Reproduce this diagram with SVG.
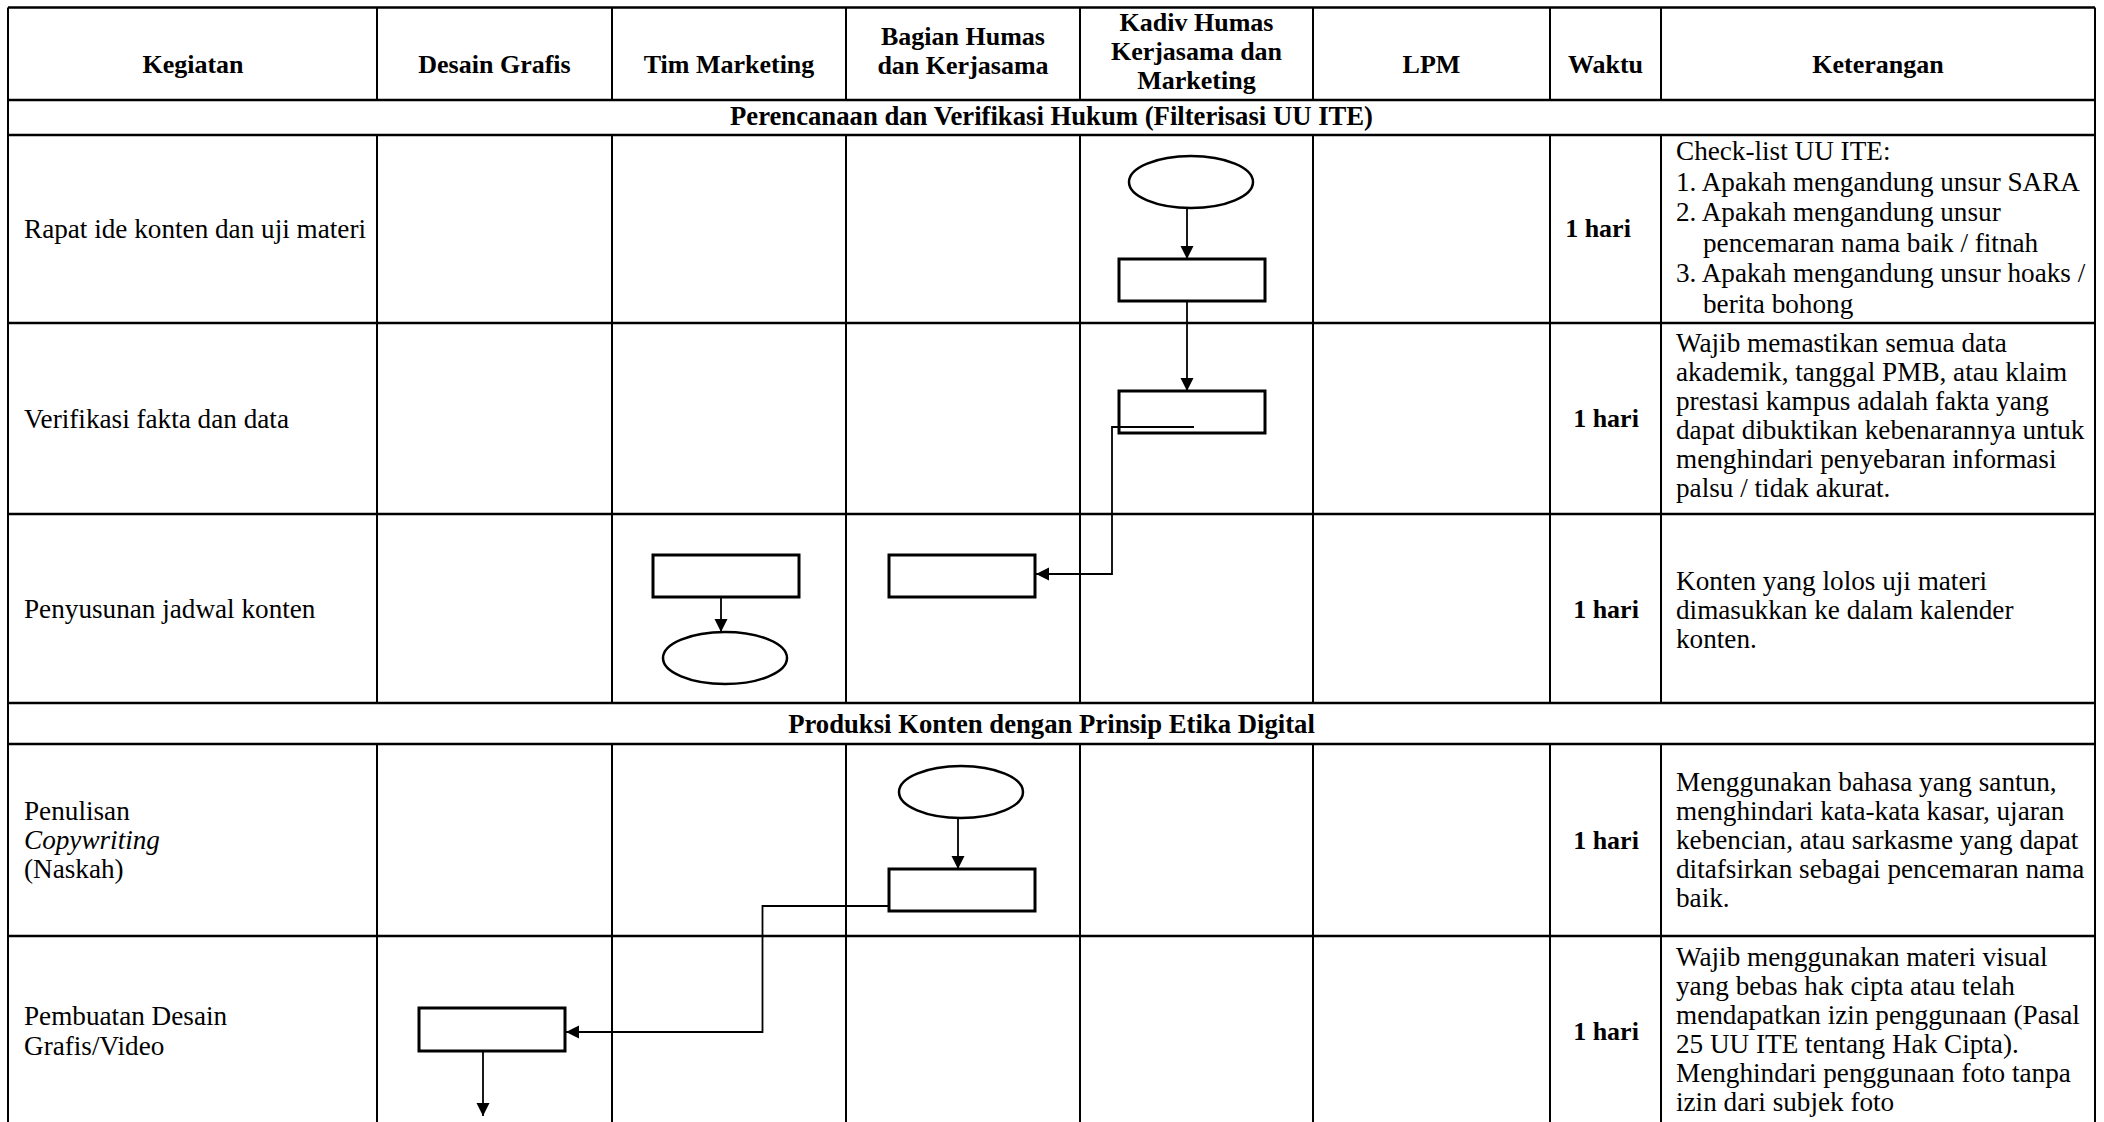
<svg xmlns="http://www.w3.org/2000/svg" width="2104" height="1122" viewBox="0 0 2104 1122">
<style>
.bg{fill:#fff}
.h{stroke:#000;stroke-width:2.3;fill:none}
.v{stroke:#000;stroke-width:2;fill:none}
.hd{font-family:"Liberation Serif","Times New Roman",serif;font-weight:bold;font-size:26px;fill:#000;text-anchor:middle}
.sec{font-family:"Liberation Serif","Times New Roman",serif;font-weight:bold;font-size:26.7px;fill:#000;text-anchor:middle}
.tx{font-family:"Liberation Serif","Times New Roman",serif;font-size:27.2px;fill:#000}
.wk{font-family:"Liberation Serif","Times New Roman",serif;font-weight:bold;font-size:26px;fill:#000;text-anchor:middle}
.box{fill:#fff;stroke:#000;stroke-width:3}
.ov{fill:#fff;stroke:#000;stroke-width:2.5}
.cn{fill:none;stroke:#000;stroke-width:1.8}
</style>
<defs>
<marker id="ah" viewBox="0 0 13 14" refX="13" refY="7" markerWidth="13" markerHeight="14" markerUnits="userSpaceOnUse" orient="auto">
<path d="M0,0.5 L13,7 L0,13.5 z" fill="#000"/>
</marker>
</defs>
<rect class="bg" x="0" y="0" width="2104" height="1122"/>

<g id="table">
<path class="h" d="M8 7.5H2095M8 100H2095M8 135H2095M8 323H2095M8 514H2095M8 703H2095M8 744H2095M8 936H2095"/>
<path class="v" d="M8 7.5V1122M2095 7.5V1122"/>
<path class="v" d="M377 7.5V100M612 7.5V100M846 7.5V100M1080 7.5V100M1313 7.5V100M1550 7.5V100M1661 7.5V100"/>
<path class="v" d="M377 135V703M612 135V703M846 135V703M1080 135V703M1313 135V703M1550 135V703M1661 135V703"/>
<path class="v" d="M377 744V1122M612 744V1122M846 744V1122M1080 744V1122M1313 744V1122M1550 744V1122M1661 744V1122"/>
</g>

<g id="header">
<text class="hd" x="193" y="73">Kegiatan</text>
<text class="hd" x="494.5" y="73">Desain Grafis</text>
<text class="hd" x="729" y="73">Tim Marketing</text>
<text class="hd" x="963" y="45">Bagian Humas</text>
<text class="hd" x="963" y="74">dan Kerjasama</text>
<text class="hd" x="1196.5" y="31">Kadiv Humas</text>
<text class="hd" x="1196.5" y="60">Kerjasama dan</text>
<text class="hd" x="1196.5" y="89">Marketing</text>
<text class="hd" x="1431.5" y="73">LPM</text>
<text class="hd" x="1605.5" y="73">Waktu</text>
<text class="hd" x="1878" y="73">Keterangan</text>
</g>

<g id="sections">
<text class="sec" x="1051.5" y="125">Perencanaan dan Verifikasi Hukum (Filterisasi UU ITE)</text>
<text class="sec" x="1051.5" y="733">Produksi Konten dengan Prinsip Etika Digital</text>
</g>

<g id="activities">
<text class="tx" x="24" y="238">Rapat ide konten dan uji materi</text>
<text class="tx" x="24" y="428">Verifikasi fakta dan data</text>
<text class="tx" x="24" y="618">Penyusunan jadwal konten</text>
<text class="tx" x="24" y="820">Penulisan</text>
<text class="tx" x="24" y="849" font-style="italic">Copywriting</text>
<text class="tx" x="24" y="878">(Naskah)</text>
<text class="tx" x="24" y="1025">Pembuatan Desain</text>
<text class="tx" x="24" y="1055">Grafis/Video</text>
</g>

<g id="waktu">
<text class="wk" x="1598" y="237">1 hari</text>
<text class="wk" x="1606" y="427">1 hari</text>
<text class="wk" x="1606" y="618">1 hari</text>
<text class="wk" x="1606" y="849">1 hari</text>
<text class="wk" x="1606" y="1040">1 hari</text>
</g>

<g id="keterangan">
<text class="tx" x="1676" y="160">Check-list UU ITE:</text>
<text class="tx" x="1676" y="190.5">1. Apakah mengandung unsur SARA</text>
<text class="tx" x="1676" y="221">2. Apakah mengandung unsur</text>
<text class="tx" x="1703" y="251.5">pencemaran nama baik / fitnah</text>
<text class="tx" x="1676" y="282">3. Apakah mengandung unsur hoaks /</text>
<text class="tx" x="1703" y="312.5">berita bohong</text>

<text class="tx" x="1676" y="352">Wajib memastikan semua data</text>
<text class="tx" x="1676" y="381">akademik, tanggal PMB, atau klaim</text>
<text class="tx" x="1676" y="410">prestasi kampus adalah fakta yang</text>
<text class="tx" x="1676" y="439">dapat dibuktikan kebenarannya untuk</text>
<text class="tx" x="1676" y="468">menghindari penyebaran informasi</text>
<text class="tx" x="1676" y="497">palsu / tidak akurat.</text>

<text class="tx" x="1676" y="590">Konten yang lolos uji materi</text>
<text class="tx" x="1676" y="619">dimasukkan ke dalam kalender</text>
<text class="tx" x="1676" y="648">konten.</text>

<text class="tx" x="1676" y="791">Menggunakan bahasa yang santun,</text>
<text class="tx" x="1676" y="820">menghindari kata-kata kasar, ujaran</text>
<text class="tx" x="1676" y="849">kebencian, atau sarkasme yang dapat</text>
<text class="tx" x="1676" y="878">ditafsirkan sebagai pencemaran nama</text>
<text class="tx" x="1676" y="907">baik.</text>

<text class="tx" x="1676" y="966">Wajib menggunakan materi visual</text>
<text class="tx" x="1676" y="995">yang bebas hak cipta atau telah</text>
<text class="tx" x="1676" y="1024">mendapatkan izin penggunaan (Pasal</text>
<text class="tx" x="1676" y="1053">25 UU ITE tentang Hak Cipta).</text>
<text class="tx" x="1676" y="1082">Menghindari penggunaan foto tanpa</text>
<text class="tx" x="1676" y="1111">izin dari subjek foto</text>
</g>

<g id="n-start1"><ellipse class="ov" cx="1191" cy="182" rx="62" ry="26"/></g>
<g id="n-rapat"><rect class="box" x="1119" y="259" width="146" height="42"/></g>
<g id="n-verifikasi"><rect class="box" x="1119" y="391" width="146" height="42"/></g>
<g id="n-jadwal-humas"><rect class="box" x="889" y="555" width="146" height="42"/></g>
<g id="n-jadwal-marketing"><rect class="box" x="653" y="555" width="146" height="42"/></g>
<g id="n-end1"><ellipse class="ov" cx="725" cy="658" rx="62" ry="26"/></g>
<g id="n-start2"><ellipse class="ov" cx="961" cy="792" rx="62" ry="26"/></g>
<g id="n-copywriting"><rect class="box" x="889" y="869" width="146" height="42"/></g>
<g id="n-desain"><rect class="box" x="419" y="1008" width="146" height="43"/></g>

<g id="connectors">
<path class="cn" d="M1187 208V259" marker-end="url(#ah)"/>
<path class="cn" d="M1187 302V391" marker-end="url(#ah)"/>
<path class="cn" d="M1194 427H1112V574H1036" marker-end="url(#ah)"/>
<path class="cn" d="M721 597V632" marker-end="url(#ah)"/>
<path class="cn" d="M958 818V869" marker-end="url(#ah)"/>
<path class="cn" d="M889 906H762.5V1032H566" marker-end="url(#ah)"/>
<path class="cn" d="M483 1051V1116" marker-end="url(#ah)"/>
</g>
</svg>
